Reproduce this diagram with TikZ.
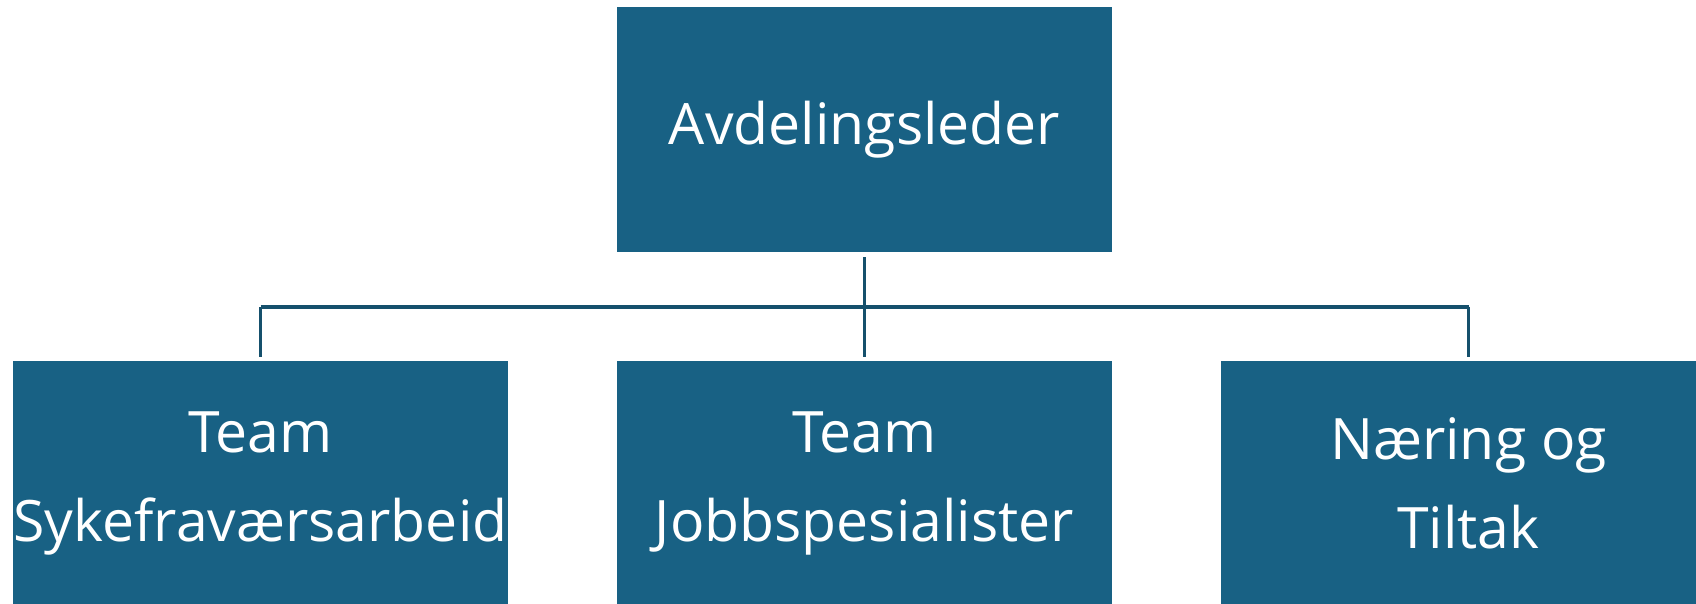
\documentclass[tikz,border=0pt]{standalone}
\usepackage{fontspec}
\setmainfont{Open Sans}
\usetikzlibrary{positioning}
\definecolor{boxblue}{HTML}{186184}
\definecolor{lineblue}{HTML}{15506C}
\begin{document}
\begin{tikzpicture}[x=0.02cm,y=-0.02cm]
\tikzset{
  unit/.style={fill=boxblue,text=white,minimum width=9.9cm,minimum height=4.9cm,inner sep=0pt,align=center,font=\fontsize{32.5}{50.6}\selectfont},
  link/.style={draw=lineblue,line width=1.8pt}
}
\useasboundingbox (0,0) rectangle (1696,604);
\node[unit] (leader) at (864.5,129.5) {Avdelingsleder};
\node[unit] (sick) at (260.5,483.5) {Team\\Sykefraværsarbeid};
\node[unit] (jobs) at (864.5,483.5) {Team\\Jobbspesialister};
\node[unit] (trade) at (1468.5,483.5) {Næring og\\Tiltak};
\coordinate (bus) at (864,307);
\draw[link,shorten <=0.1cm,shorten >=0.08cm] (leader.south) -- (jobs.north);
\draw[link] (sick.north |- bus) -- (trade.north |- bus);
\draw[link,shorten >=0.08cm] (sick.north |- bus) -- (sick.north);
\draw[link,shorten >=0.08cm] (trade.north |- bus) -- (trade.north);
\end{tikzpicture}
\end{document}
